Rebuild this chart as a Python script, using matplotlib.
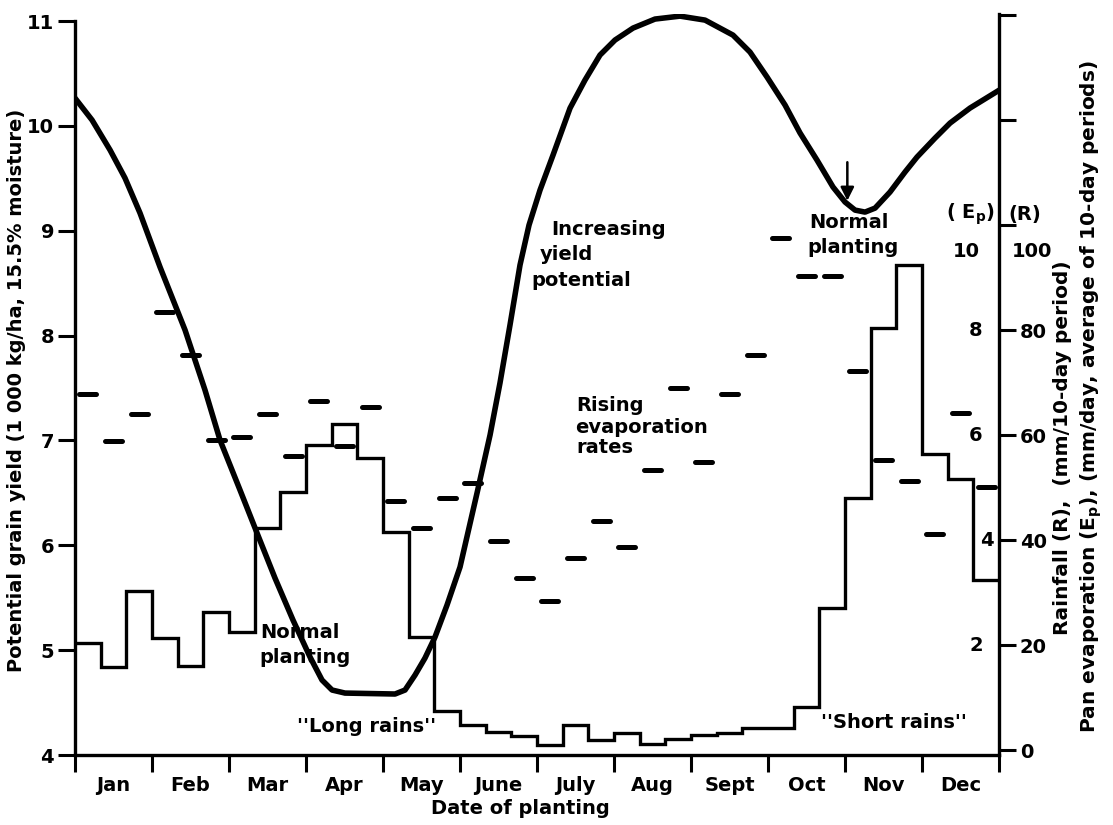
import numpy as np
import matplotlib.pyplot as plt

# month labels (each month split into three 10-day periods)
months = ['Jan', 'Feb', 'Mar', 'Apr', 'May', 'June', 'July', 'Aug', 'Sept', 'Oct', 'Nov', 'Dec']

# potential yield curve: position in months, yield (1000 kg/ha)
yield_month = [0.000, 0.221, 0.455, 0.649, 0.844, 1.104, 1.429, 1.688, 1.883, 2.143,
               2.364, 2.597, 2.831, 3.052, 3.208, 3.338, 3.506, 4.156, 4.286, 4.416,
               4.545, 4.675, 4.831, 5.000, 5.221, 5.390, 5.519, 5.649, 5.779, 5.896,
               6.039, 6.208, 6.429, 6.623, 6.818, 7.013, 7.247, 7.532, 7.857, 8.182,
               8.545, 8.766, 8.987, 9.221, 9.416, 9.636, 9.844, 10.000, 10.130, 10.260,
               10.390, 10.584, 10.779, 10.935, 11.169, 11.364, 11.623, 12.000]
yield_val = [10.265, 10.056, 9.770, 9.503, 9.169, 8.654, 8.053, 7.481, 7.004, 6.527,
             6.117, 5.688, 5.287, 4.935, 4.715, 4.620, 4.591, 4.582, 4.620, 4.763,
             4.925, 5.125, 5.430, 5.793, 6.499, 7.052, 7.548, 8.101, 8.673, 9.054,
             9.388, 9.722, 10.170, 10.437, 10.676, 10.819, 10.933, 11.019, 11.047, 11.009,
             10.866, 10.704, 10.466, 10.199, 9.932, 9.674, 9.417, 9.274, 9.197, 9.178,
             9.216, 9.369, 9.560, 9.703, 9.884, 10.027, 10.170, 10.340]

# rainfall, mm per 10-day period (36 periods)
rain = [20.4, 15.8, 30.3, 21.3, 16.0, 26.3, 22.5, 42.3, 49.1, 58.1, 62.1, 55.6,
        41.5, 21.5, 7.4, 4.8, 3.4, 2.7, 1.0, 4.8, 1.9, 3.2, 1.1, 2.1,
        2.9, 3.2, 4.2, 4.2, 8.2, 27.0, 48.0, 80.4, 92.4, 56.4, 51.6, 32.4]

# pan evaporation, mm/day, average of each 10-day period
evap = [6.78, 5.89, 6.40, 8.34, 7.52, 5.90, 5.96, 6.40, 5.60, 6.65, 5.79, 6.53,
        4.74, 4.23, 4.80, 5.09, 3.98, 3.28, 2.84, 3.66, 4.36, 3.87, 5.33, 6.90,
        5.49, 6.78, 7.52, 9.75, 9.03, 9.03, 7.22, 5.52, 5.12, 4.11, 6.42, 5.01]

yield_ticks = [4, 5, 6, 7, 8, 9, 10, 11]
rain_ticks = [0, 20, 40, 60, 80, 100, 120, 140]
rain_ticklabels = ['0', '20', '40', '60', '80', '', '', '']
evap_ticks = [2, 4, 6, 8]

plt.rcParams['font.family'] = 'DejaVu Sans'
plt.rcParams['font.weight'] = 'bold'

fig = plt.figure(figsize=(11.13, 8.25), dpi=100)
ax = fig.add_axes([0.0674, 0.0848, 0.8302, 0.8982])
ax2 = ax.twinx()

ax.set_xlim(0, 12)
ax.set_ylim(4, 11.067)
ax2.set_ylim(-0.95, 140.2)

# rainfall steps
edges = np.arange(len(rain) + 1) / 3
ax2.stairs(rain, edges, color='black', lw=2.4, baseline=None)

# evaporation dashes, one per 10-day period (E_p of 10 sits at R of 100)
centers = (np.arange(len(evap)) + 0.5) / 3
ax2.hlines(np.array(evap) * 10, centers - 0.11, centers + 0.11,
           color='black', lw=3.6, capstyle='round')

# yield curve
ax.plot(yield_month, yield_val, color='black', lw=4, solid_capstyle='round',
        solid_joinstyle='round')

# spines
for sp in ['top', 'right']:
    ax.spines[sp].set_visible(False)
for sp in ['top', 'left', 'bottom']:
    ax2.spines[sp].set_visible(False)
ax.spines['left'].set_bounds(4, 11)
ax.spines['left'].set_linewidth(2.4)
ax.spines['bottom'].set_linewidth(2.4)
ax2.spines['right'].set_linewidth(2.4)

# x ticks: month boundaries, labels in between
ax.set_xticks(range(13))
ax.set_xticklabels([])
ax.set_xticks(np.arange(12) + 0.5, minor=True)
ax.set_xticklabels(months, minor=True, fontsize=14)
ax.tick_params(axis='x', which='major', direction='out', length=12, width=2.2)
ax.tick_params(axis='x', which='minor', length=0, pad=15)

ax.set_yticks(yield_ticks)
ax.set_yticklabels([str(t) for t in yield_ticks], fontsize=14)
ax.tick_params(axis='y', direction='out', length=12, width=2.2, pad=3)

ax2.set_yticks(rain_ticks)
ax2.set_yticklabels(rain_ticklabels, fontsize=14)
ax2.tick_params(axis='y', direction='out', length=12, width=2.2, pad=3)

# E_p scale written just inside the right axis
for t in evap_ticks:
    xpos = 11.84 if t == 4 else 11.70
    ax2.text(xpos, t * 10, str(t), ha='center', va='center', fontsize=14)
ax2.text(11.57, 95, '10', ha='center', va='center', fontsize=14)
ax2.text(11.63, 102, r'( E$_\mathregular{p}$)', ha='center', va='center', fontsize=14)
ax2.text(12.16, 95, '100', ha='left', va='center', fontsize=14, clip_on=False)
ax2.text(12.12, 102, '(R)', ha='left', va='center', fontsize=14, clip_on=False)

# annotations
fs = 14
ax.text(6.19, 9.01, 'Increasing', fontsize=fs, va='center')
ax.text(6.03, 8.77, 'yield', fontsize=fs, va='center')
ax.text(5.93, 8.53, 'potential', fontsize=fs, va='center')
ax.text(9.54, 9.08, 'Normal', fontsize=fs, va='center')
ax.text(9.51, 8.84, 'planting', fontsize=fs, va='center')
ax.annotate('', xy=(10.03, 9.26), xytext=(10.03, 9.68),
            arrowprops=dict(arrowstyle='-|>', color='black', lw=1.8, mutation_scale=20))
ax.text(6.51, 7.33, 'Rising', fontsize=fs, va='center')
ax.text(6.49, 7.12, 'evaporation', fontsize=fs, va='center')
ax.text(6.51, 6.93, 'rates', fontsize=fs, va='center')
ax.text(2.40, 5.17, 'Normal', fontsize=fs, va='center', zorder=1)
ax.text(2.40, 4.93, 'planting', fontsize=fs, va='center', zorder=1)
ax.text(3.79, 4.27, "''Long rains''", fontsize=fs, ha='center', va='center')
ax.text(10.64, 4.31, "''Short rains''", fontsize=fs, ha='center', va='center')

# axis titles
fig.text(520 / 1113, 1 - 808 / 825, 'Date of planting', fontsize=14,
         ha='center', va='center')
fig.text(17 / 1113, 1 - 390 / 825, 'Potential grain yield (1 000 kg/ha, 15.5% moisture)',
         fontsize=14, rotation=90, ha='center', va='center')
fig.text(1062 / 1113, 1 - 448 / 825, 'Rainfall (R),  (mm/10-day period)',
         fontsize=14.5, rotation=90, ha='center', va='center')
fig.text(1091 / 1113, 1 - 397 / 825,
         r'Pan evaporation (E$_\mathregular{p}$), (mm/day, average of 10-day periods)',
         fontsize=14.5, rotation=90, ha='center', va='center')

plt.savefig('out.png', dpi=100)
